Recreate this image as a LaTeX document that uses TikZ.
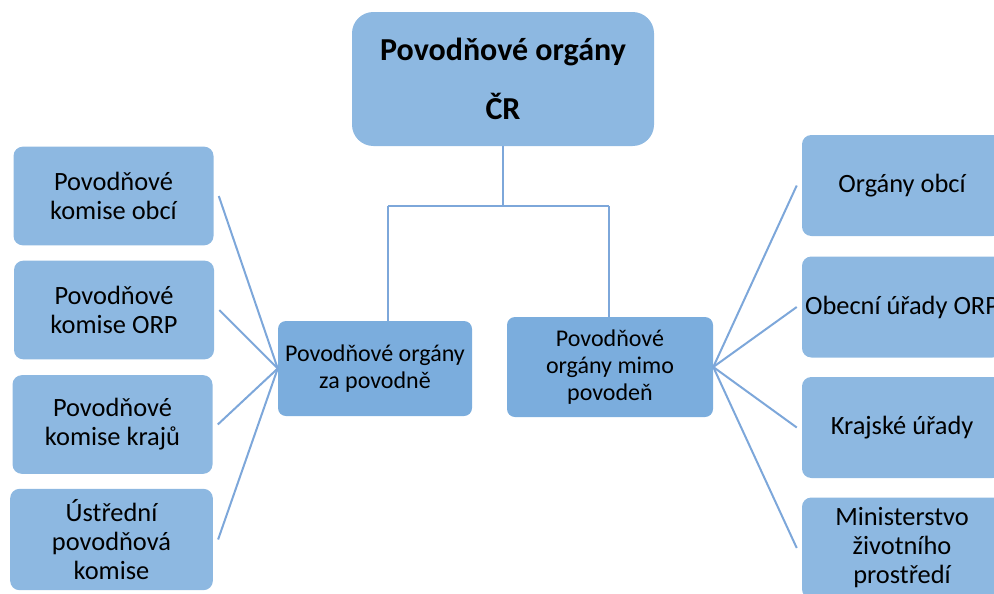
\documentclass[tikz,border=0pt]{standalone}
\usepackage{fontspec}
\setmainfont{Carlito}
\definecolor{boxblue}{RGB}{141,184,225}
\definecolor{midblue}{RGB}{123,173,221}
\definecolor{linkblue}{RGB}{125,167,218}
\begin{document}
\begin{tikzpicture}[x=0.75pt, y=-0.75pt,
  unit/.style={fill=boxblue, rounded corners=7pt, minimum width=150pt, minimum height=74pt,
    align=center, inner sep=2pt, font=\fontsize{19.8pt}{21.75pt}\selectfont},
  mid/.style={fill=midblue, rounded corners=6pt, align=center, inner sep=2pt,
    font=\fontsize{18pt}{20.5pt}\selectfont},
  link/.style={draw=linkblue, line width=1.5pt}]
  \useasboundingbox (0,0) rectangle (994,593);
  \clip (0,0) rectangle (994,593);
  \node[unit, rounded corners=16pt, minimum width=226.5pt, minimum height=100.5pt,
    font=\fontsize{24pt}{29pt}\selectfont\bfseries] (top) at (503,79) {Povodňové orgány\\[15pt]ČR};
  \node[mid, minimum width=145.5pt, minimum height=71.25pt] (za) at (375,368.5) {Povodňové orgány\\za povodně};
  \node[mid, minimum width=154.5pt, minimum height=75pt] (mimo) at (610,367) {Povodňové\\orgány mimo\\povodeň};
  \node[unit] (k1) at (113.5,196) {Povodňové\\komise obcí};
  \node[unit] (k2) at (114,310) {Povodňové\\komise ORP};
  \node[unit] (k3) at (112.5,424.5) {Povodňové\\komise krajů};
  \node[unit, minimum width=152pt, minimum height=76pt] (k4) at (111.5,539.5) {Ústřední\\povodňová\\komise};
  \node[unit, minimum height=75.75pt] (o1) at (902,185.5) {Orgány obcí};
  \node[unit, minimum height=75.75pt] (o2) at (902,307) {Obecní úřady ORP};
  \node[unit, minimum height=75.75pt] (o3) at (902,427.5) {Krajské úřady};
  \node[unit, minimum height=75.75pt] (o4) at (902,548) {Ministerstvo\\životního\\prostředí};
  \coordinate (fork) at (503,206);
  \coordinate (jl) at (388,206);
  \coordinate (jr) at (609,206);
  \draw[link] (top.south) -- (fork);
  \draw[link] (jl) -- (jr);
  \draw[link] (jl) -- (jl |- za.north);
  \draw[link] (jr) -- (jr |- mimo.north);
  \foreach \n in {k1,k2,k3,k4} \draw[link] (za.west) -- ([xshift=3.75pt]\n.east);
  \foreach \n in {o1,o2,o3,o4} \draw[link] (mimo.east) -- ([xshift=-3.75pt]\n.west);
\end{tikzpicture}
\end{document}
